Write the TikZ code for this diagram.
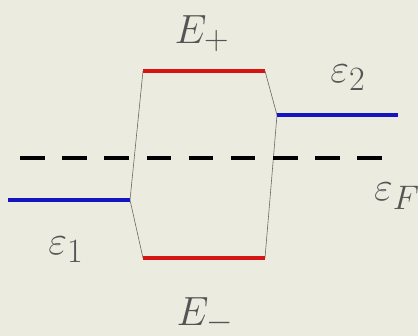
\documentclass[tikz,border=0pt]{standalone}
\usepackage{amsmath,amssymb}
\usepackage{xcolor}
\usepackage{tikz}

\definecolor{bgbeige}{RGB}{235,235,224}
\definecolor{levred}{RGB}{215,20,20}
\definecolor{levblue}{RGB}{20,20,195}
\definecolor{lblgray}{RGB}{85,85,85}

\begin{document}
\begin{tikzpicture}[
    x=0.03cm, y=-0.03cm,
    level/.style={line width=3.6pt},
    bond/.style={gray!80!black, line width=0.5pt},
    fermi/.style={line width=3.4pt, dash pattern=on 21pt off 15pt},
    lbl/.style={text=lblgray, font=\Huge, inner sep=0pt, scale=1.4, transform shape}
  ]
    \useasboundingbox (0,0) rectangle (418,336);
    \fill[bgbeige] (0,0) rectangle (418,336);

    % level ends
    \coordinate (e1a) at (8,200);   \coordinate (e1b) at (130,200);
    \coordinate (e2a) at (277,115); \coordinate (e2b) at (398,115);
    \coordinate (epa) at (143,71);  \coordinate (epb) at (265,71);
    \coordinate (ema) at (143,258); \coordinate (emb) at (265,258);
    \coordinate (efa) at (20,158);  \coordinate (efb) at (390,158);

    \draw[bond] (e1b) -- (epa);
    \draw[bond] (e1b) -- (ema);
    \draw[bond] (e2a) -- (epb);
    \draw[bond] (e2a) -- (emb);

    \draw[fermi] (efa) -- (efb);
    \draw[level, levblue] (e1a) -- (e1b);
    \draw[level, levblue] (e2a) -- (e2b);
    \draw[level, levred] (epa) -- (epb);
    \draw[level, levred] (ema) -- (emb);

    \node[lbl] (Eplus) at (202,34) {$E_+$};
    \node[lbl] (Eminus) at (205,316) {$E_-$};
    \node[lbl] (eps1) at (66,250) {$\varepsilon_1$};
    \node[lbl] (eps2) at (348,78) {$\varepsilon_2$};
    \node[lbl] (epsF) at (397,196) {$\varepsilon_F$};
  \end{tikzpicture}
\end{document}
